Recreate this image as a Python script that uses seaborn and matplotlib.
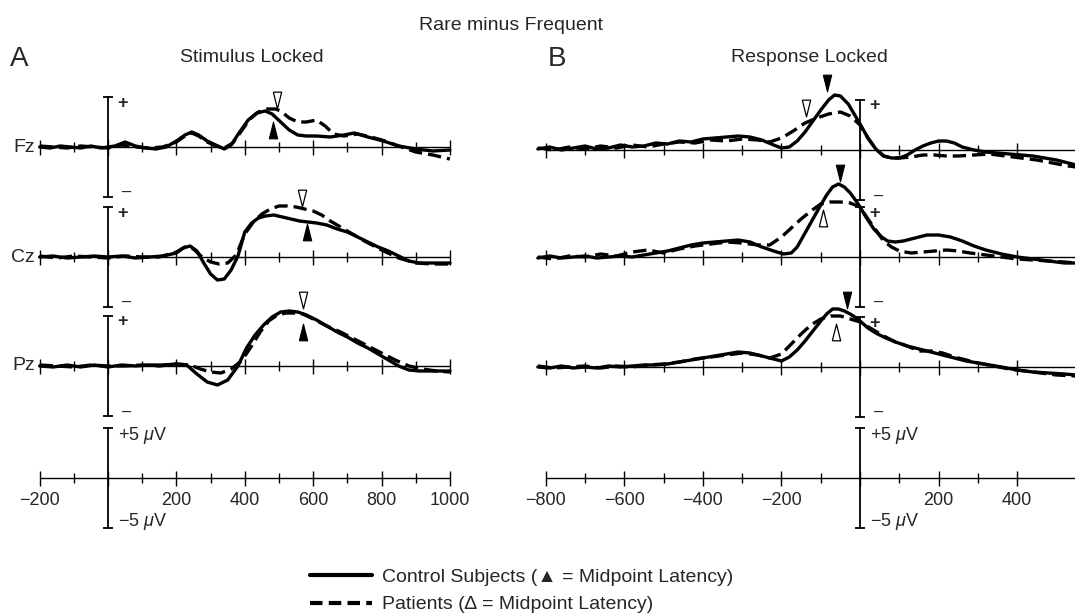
import numpy as np
import pandas as pd
import matplotlib
matplotlib.use('Agg')
import matplotlib.pyplot as plt
from matplotlib.lines import Line2D
import seaborn as sns

# ---- data (ms, microvolts) ----
electrodes = ['Fz', 'Cz', 'Pz']

# A: stimulus locked
a_fz_ctrl_t = [-200, -170, -140, -110, -80, -50, -20, 0, 20, 50, 80, 110, 140, 170, 200, 225, 245, 265, 290, 315,
               340, 360, 385, 410, 435, 460, 480, 505, 530, 555, 580, 610, 650, 690, 720, 760, 805, 850, 900, 950, 1000]
a_fz_ctrl_v = [0.0, -0.1, 0.1, 0.0, -0.1, 0.1, -0.1, 0.0, 0.1, 0.5, 0.1, -0.1, -0.2, 0.0, 0.6, 1.2, 1.5, 1.2, 0.6, 0.2,
               -0.2, 0.2, 1.5, 2.7, 3.4, 3.6, 3.3, 2.5, 1.7, 1.2, 1.1, 1.1, 1.0, 1.2, 1.4, 1.0, 0.6, 0.1, -0.2, -0.4, -0.3]
a_fz_pat_t = [-200, -160, -120, -80, -40, 0, 40, 80, 120, 160, 200, 225, 245, 265, 290, 315, 340, 365, 390, 415,
              440, 465, 490, 505, 530, 555, 580, 610, 635, 660, 690, 730, 770, 810, 850, 900, 950, 1000]
a_fz_pat_v = [0.1, 0.0, -0.1, 0.1, 0.0, -0.1, 0.2, 0.0, -0.1, 0.0, 0.5, 1.1, 1.4, 1.1, 0.5, 0.1, -0.1, 0.4, 1.6, 2.8,
              3.5, 3.8, 3.8, 3.6, 2.9, 2.5, 2.5, 2.7, 2.1, 1.3, 1.1, 1.3, 1.0, 0.6, 0.1, -0.5, -0.8, -1.2]

a_cz_ctrl_t = [-200, -160, -120, -80, -40, 0, 40, 80, 120, 160, 200, 220, 240, 260, 280, 300, 320, 340, 360, 380, 400,
               420, 440, 460, 485, 510, 535, 560, 585, 610, 640, 670, 700, 730, 760, 790, 820, 850, 880, 910, 950, 1000]
a_cz_ctrl_v = [0.0, 0.1, -0.1, 0.0, 0.1, 0.0, 0.1, -0.1, 0.0, 0.1, 0.4, 0.9, 1.1, 0.6, -0.6, -1.7, -2.3, -2.2, -1.3, 0.1,
               2.5, 3.4, 3.9, 4.1, 4.2, 4.0, 3.8, 3.6, 3.5, 3.4, 3.2, 2.8, 2.5, 2.0, 1.5, 1.0, 0.6, 0.1, -0.4, -0.6,
               -0.6, -0.6]
a_cz_pat_t = [-200, -150, -100, -50, 0, 50, 100, 150, 200, 225, 250, 275, 300, 325, 350, 375, 400, 425, 450, 475, 500,
              525, 550, 575, 600, 625, 650, 700, 750, 800, 850, 900, 950, 1000]
a_cz_pat_v = [0.1, -0.1, 0.1, 0.0, -0.1, 0.1, 0.0, 0.0, 0.5, 1.0, 0.8, 0.0, -0.5, -0.7, -0.6, 0.2, 2.3, 3.5, 4.3, 4.8,
              5.1, 5.1, 5.0, 4.8, 4.6, 4.2, 3.6, 2.6, 1.6, 0.7, -0.1, -0.6, -0.7, -0.7]

a_pz_ctrl_t = [-200, -160, -120, -80, -40, 0, 40, 80, 120, 160, 200, 230, 260, 290, 320, 350, 380, 405, 430, 455, 480,
               505, 530, 555, 580, 610, 640, 670, 700, 730, 760, 790, 820, 850, 880, 910, 950, 1000]
a_pz_ctrl_v = [0.0, -0.1, 0.1, -0.1, 0.1, -0.1, 0.1, 0.0, 0.1, 0.1, 0.2, 0.1, -0.8, -1.6, -1.9, -1.4, 0.0, 1.8, 3.1,
               4.1, 4.9, 5.4, 5.5, 5.4, 5.1, 4.6, 4.0, 3.4, 2.9, 2.3, 1.8, 1.2, 0.6, 0.0, -0.4, -0.5, -0.5, -0.5]
a_pz_pat_t = [-200, -150, -100, -50, 0, 50, 100, 150, 200, 240, 270, 300, 330, 360, 390, 420, 445, 470, 495, 520, 545,
              570, 600, 640, 680, 720, 760, 800, 840, 880, 920, 960, 1000]
a_pz_pat_v = [0.1, 0.0, -0.1, 0.1, 0.0, 0.0, 0.1, 0.0, 0.2, 0.1, -0.3, -0.6, -0.7, -0.3, 0.5, 2.0, 3.4, 4.5, 5.1, 5.3,
              5.3, 5.2, 4.7, 4.0, 3.4, 2.7, 2.0, 1.3, 0.6, 0.0, -0.3, -0.5, -0.6]

# B: response locked
b_fz_ctrl_t = [-820, -790, -760, -730, -700, -670, -640, -610, -580, -550, -520, -490, -460, -430, -400, -370, -340,
               -310, -280, -250, -220, -200, -180, -160, -140, -120, -100, -80, -65, -50, -30, -15, 0, 20, 40, 60, 80,
               100, 120, 140, 160, 180, 200, 220, 240, 260, 290, 320, 350, 380, 410, 440, 470, 500, 530, 550]
b_fz_ctrl_v = [0.1, 0.3, 0.0, 0.2, 0.4, 0.1, 0.2, 0.5, 0.3, 0.4, 0.7, 0.6, 0.9, 0.8, 1.1, 1.2, 1.3, 1.4, 1.3, 1.0, 0.5,
               0.2, 0.3, 0.9, 1.8, 2.9, 4.0, 5.0, 5.5, 5.4, 4.6, 3.6, 2.6, 1.2, 0.1, -0.6, -0.8, -0.8, -0.5, 0.0, 0.4,
               0.7, 0.9, 0.9, 0.7, 0.3, 0.0, -0.2, -0.3, -0.4, -0.5, -0.6, -0.8, -1.0, -1.3, -1.5]
b_fz_pat_t = [-820, -780, -740, -700, -660, -620, -580, -540, -500, -460, -420, -380, -340, -300, -260, -230, -200,
              -170, -140, -110, -80, -50, -25, 0, 20, 40, 60, 80, 100, 130, 160, 190, 220, 250, 290, 330, 370, 410,
              450, 490, 530, 550]
b_fz_pat_v = [0.2, 0.0, 0.3, 0.1, 0.4, 0.2, 0.5, 0.3, 0.6, 0.8, 0.7, 1.0, 0.9, 1.1, 1.0, 0.8, 1.2, 1.9, 2.7, 3.2, 3.6,
              3.8, 3.4, 2.5, 1.2, 0.1, -0.6, -0.8, -0.8, -0.7, -0.5, -0.5, -0.6, -0.6, -0.5, -0.4, -0.6, -0.8, -1.0,
              -1.3, -1.6, -1.7]

b_cz_ctrl_t = [-820, -790, -760, -730, -700, -670, -640, -610, -580, -550, -520, -490, -460, -430, -400, -370, -340,
               -310, -280, -250, -220, -195, -175, -160, -140, -120, -100, -85, -70, -55, -40, -25, -10, 0, 15, 35,
               55, 70, 90, 110, 140, 170, 200, 230, 260, 290, 320, 360, 400, 440, 480, 520, 550]
b_cz_ctrl_v = [-0.1, 0.1, -0.1, 0.0, 0.1, -0.1, 0.0, 0.1, 0.0, 0.2, 0.4, 0.6, 0.9, 1.2, 1.4, 1.5, 1.6, 1.7, 1.5, 1.0,
               0.6, 0.3, 0.4, 1.0, 2.4, 3.8, 5.2, 6.2, 7.0, 7.3, 7.0, 6.4, 5.6, 5.0, 4.0, 2.8, 2.0, 1.6, 1.5, 1.6, 1.9,
               2.2, 2.2, 2.0, 1.6, 1.1, 0.7, 0.3, 0.0, -0.2, -0.4, -0.6, -0.6]
b_cz_pat_t = [-820, -780, -740, -700, -660, -620, -580, -540, -500, -460, -420, -380, -340, -300, -260, -230, -200,
              -175, -150, -125, -100, -75, -50, -25, 0, 20, 40, 60, 80, 100, 130, 160, 190, 220, 250, 280, 320, 360,
              400, 440, 480, 520, 550]
b_cz_pat_v = [0.0, -0.2, 0.1, 0.0, 0.3, 0.1, 0.5, 0.7, 0.4, 0.8, 1.1, 1.3, 1.5, 1.4, 1.2, 1.2, 2.0, 2.9, 3.8, 4.6, 5.3,
              5.5, 5.5, 5.4, 5.0, 3.8, 2.7, 1.6, 1.0, 0.6, 0.4, 0.5, 0.6, 0.7, 0.6, 0.4, 0.2, 0.0, -0.2, -0.3, -0.4,
              -0.5, -0.6]

b_pz_ctrl_t = [-820, -790, -760, -730, -700, -670, -640, -610, -580, -550, -520, -490, -460, -430, -400, -370, -340,
               -310, -280, -250, -220, -200, -180, -160, -140, -120, -100, -85, -70, -55, -40, -25, -10, 0, 20, 40,
               60, 90, 120, 150, 180, 210, 240, 270, 300, 330, 360, 400, 440, 480, 520, 550]
b_pz_ctrl_v = [0.0, -0.1, 0.1, -0.1, 0.0, -0.1, 0.1, 0.0, 0.1, 0.2, 0.2, 0.3, 0.5, 0.7, 0.9, 1.1, 1.3, 1.5, 1.4, 1.1,
               0.8, 0.6, 1.0, 1.7, 2.6, 3.6, 4.6, 5.3, 5.8, 5.8, 5.6, 5.3, 4.9, 4.6, 3.9, 3.4, 3.0, 2.5, 2.1, 1.8, 1.5,
               1.2, 0.9, 0.6, 0.4, 0.2, 0.0, -0.3, -0.5, -0.6, -0.7, -0.8]
b_pz_pat_t = [-820, -780, -740, -700, -660, -620, -580, -540, -500, -460, -420, -380, -340, -300, -260, -230, -200,
              -175, -150, -125, -100, -75, -50, -25, 0, 30, 60, 90, 120, 150, 180, 210, 240, 270, 300, 340, 380, 420,
              460, 500, 550]
b_pz_pat_v = [0.1, -0.1, 0.0, 0.1, -0.1, 0.1, 0.0, 0.2, 0.3, 0.5, 0.8, 1.0, 1.2, 1.4, 1.2, 0.9, 1.3, 2.3, 3.3, 4.2,
              4.8, 5.1, 5.1, 4.8, 4.5, 3.8, 3.1, 2.5, 2.1, 1.6, 1.6, 1.4, 1.0, 0.7, 0.4, 0.1, -0.2, -0.4, -0.6, -0.8,
              -0.9]

# midpoint latency markers (Fz, Cz, Pz)
mid_a_ctrl_t = [483, 581, 570]
mid_a_ctrl_v = [1.7, 2.5, 3.4]
mid_a_pat_t = [494, 567, 570]
mid_a_pat_v = [4.7, 5.9, 6.6]
mid_b_ctrl_t = [-84, -51, -33]
mid_b_ctrl_v = [6.7, 8.4, 6.7]
mid_b_pat_t = [-137, -94, -61]
mid_b_pat_v = [4.2, 3.9, 3.5]

a_ticklabels = [-200, 200, 400, 600, 800, 1000]
b_ticklabels = [-800, -600, -400, -200, 200, 400]

# ---- layout ----
offs = {'A': [0.0, -11.0, -21.9], 'B': [-0.3, -11.0, -22.0]}
scale_off = -33.1

traces = [
    ('A', 'Fz', 'Control', a_fz_ctrl_t, a_fz_ctrl_v), ('A', 'Fz', 'Patients', a_fz_pat_t, a_fz_pat_v),
    ('A', 'Cz', 'Control', a_cz_ctrl_t, a_cz_ctrl_v), ('A', 'Cz', 'Patients', a_cz_pat_t, a_cz_pat_v),
    ('A', 'Pz', 'Control', a_pz_ctrl_t, a_pz_ctrl_v), ('A', 'Pz', 'Patients', a_pz_pat_t, a_pz_pat_v),
    ('B', 'Fz', 'Control', b_fz_ctrl_t, b_fz_ctrl_v), ('B', 'Fz', 'Patients', b_fz_pat_t, b_fz_pat_v),
    ('B', 'Cz', 'Control', b_cz_ctrl_t, b_cz_ctrl_v), ('B', 'Cz', 'Patients', b_cz_pat_t, b_cz_pat_v),
    ('B', 'Pz', 'Control', b_pz_ctrl_t, b_pz_ctrl_v), ('B', 'Pz', 'Patients', b_pz_pat_t, b_pz_pat_v),
]
frames = []
for panel, el, grp, t, v in traces:
    off = offs[panel][electrodes.index(el)]
    frames.append(pd.DataFrame({'panel': panel, 'electrode': el, 'group': grp,
                                'trace': panel + el + grp, 't': t, 'y': np.array(v) + off}))
df = pd.concat(frames, ignore_index=True)

sns.set_theme(style='white')
plt.rcParams['font.family'] = ['Liberation Sans', 'DejaVu Sans']
plt.rcParams['mathtext.fontset'] = 'custom'
plt.rcParams['mathtext.rm'] = 'Liberation Sans'
plt.rcParams['mathtext.it'] = 'Liberation Sans:italic'

W, H = 1075, 615
fig = plt.figure(figsize=(W / 100, H / 100), dpi=100)


def fx(px):
    return px / W


def fy(py):
    return 1 - py / H


axA = fig.add_axes([fx(0), fy(545), fx(520), (545 - 60) / H])
axB = fig.add_axes([fx(530), fy(545), fx(545), (545 - 60) / H])
xlims = {'A': (-316, 1205), 'B': (-840, 547)}

tri_up = [(-0.5, -1), (0.5, -1), (0, 1), (-0.5, -1)]
tri_dn = [(-0.5, 1), (0.5, 1), (0, -1), (-0.5, 1)]
lw_axis = 1.0
k = 'black'

for panel, ax, x0, x1, tick_lo, tick_hi in [('A', axA, -200, 1000, -200, 1000),
                                             ('B', axB, -800, 547, -800, 400)]:
    rows = offs[panel] + [scale_off]
    ticks = np.arange(tick_lo, tick_hi + 1, 100)
    major = ticks[ticks % 200 == 0]
    minor = ticks[ticks % 200 != 0]
    for i, off in enumerate(rows):
        ax.hlines(off, x0, x1, color=k, lw=lw_axis)
        ax.vlines(major, off - 0.75, off + 0.75, color=k, lw=lw_axis)
        ax.vlines(minor, off - 0.5, off + 0.5, color=k, lw=lw_axis)
        # vertical 5 uV scale bar at time zero
        ax.plot([0, 0], [off - 5, off + 5], color=k, lw=1.3, marker='_', ms=7, mew=1.3)
        if i < 3:
            ax.text(0, off + 4.4, '  +', fontsize=13, ha='left', va='center', fontweight='bold')
            ax.text(0, off - 4.5, '   \u2013', fontsize=12, ha='left', va='center')
            if panel == 'A':
                ax.text(-214, off, electrodes[i], fontsize=14, ha='right', va='center')
        else:
            ax.text(0, off + 4.3, '  +5 $\\mu$V', fontsize=13, ha='left', va='center')
            ax.text(0, off - 4.4, '  \u22125 $\\mu$V', fontsize=13, ha='left', va='center')
    labels = a_ticklabels if panel == 'A' else b_ticklabels
    for val in labels:
        ax.text(val, scale_off - 2.2, str(val).replace('-', '\u2212'), fontsize=13, ha='center', va='center')

    sns.lineplot(data=df[df['panel'] == panel], x='t', y='y', units='trace', estimator=None,
                 style='group', dashes={'Control': '', 'Patients': (4, 1.8)}, color=k, lw=2.4,
                 legend=False, sort=False, ax=ax)
    ax.set_xlim(*xlims[panel])
    ax.set_ylim(-39.8, 8.7)
    ax.set_axis_off()

# midpoint latency markers
for j in range(3):
    axA.plot(mid_a_ctrl_t[j], mid_a_ctrl_v[j] + offs['A'][j], ls='none', marker=tri_up, ms=12,
             mfc=k, mec=k, mew=0.8)
    axA.plot(mid_a_pat_t[j], mid_a_pat_v[j] + offs['A'][j], ls='none', marker=tri_dn, ms=12,
             mfc='white', mec=k, mew=0.9)
    axB.plot(mid_b_ctrl_t[j], mid_b_ctrl_v[j] + offs['B'][j], ls='none', marker=tri_dn, ms=12,
             mfc=k, mec=k, mew=0.8)
    axB.plot(mid_b_pat_t[j], mid_b_pat_v[j] + offs['B'][j], ls='none', marker=tri_dn if j == 0 else tri_up,
             ms=12, mfc='white', mec=k, mew=0.9)

# titles
fig.text(fx(511), fy(25), 'Rare minus Frequent', fontsize=14, ha='center', va='center')
fig.text(fx(10), fy(59), 'A', fontsize=20, ha='left', va='center')
fig.text(fx(252), fy(57), 'Stimulus Locked', fontsize=14, ha='center', va='center')
fig.text(fx(548), fy(59), 'B', fontsize=20, ha='left', va='center')
fig.text(fx(809), fy(57), 'Response Locked', fontsize=14, ha='center', va='center')

handles = [Line2D([], [], color=k, lw=3),
           Line2D([], [], color=k, lw=3, dashes=(3, 1.5))]
labels = ['Control Subjects (\u25b2 = Midpoint Latency)', 'Patients (\u2206 = Midpoint Latency)']
fig.legend(handles, labels, loc='upper left', bbox_to_anchor=(fx(310), fy(568)), frameon=False,
           fontsize=14, handlelength=3.2, handletextpad=0.5, labelspacing=0.52, borderpad=0,
           borderaxespad=0)

fig.savefig('out.png', dpi=100)
